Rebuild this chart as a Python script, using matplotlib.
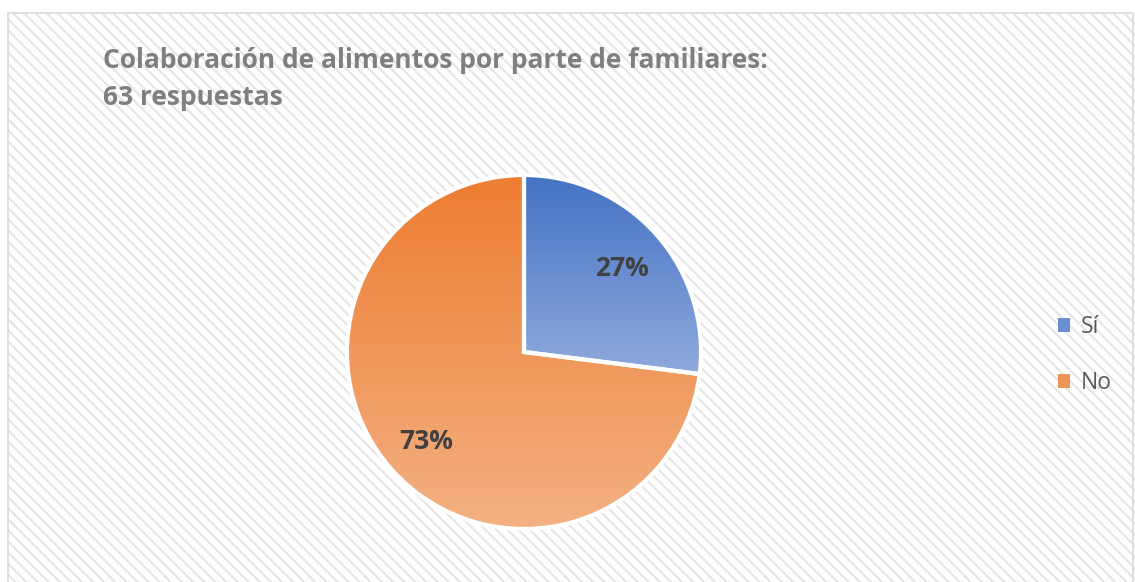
import numpy as np
import matplotlib.pyplot as plt
from matplotlib.patches import Rectangle
from matplotlib.colors import LinearSegmentedColormap

# datos
labels = ["Sí", "No"]
counts = [17, 46]
top_colors = ["#4472C4", "#ED7D31"]
bottom_colors = ["#8FAADC", "#F4B183"]
title = "Colaboración de alimentos por parte de familiares:\n63 respuestas"

plt.rcParams['font.family'] = ['Open Sans', 'DejaVu Sans']
plt.rcParams['hatch.linewidth'] = 1.6

W, H = 1135, 582
fig = plt.figure(figsize=(W / 100, H / 100), dpi=100)
ax = fig.add_axes([0, 0, 1, 1])

# fondo rayado
ax.add_patch(Rectangle((8, -10), W, H - 13 + 10, facecolor='white',
                       edgecolor='#e6e6e6', linewidth=0, hatch='\\\\\\', zorder=0))
ax.add_patch(Rectangle((8, -10), W - 10, H - 13 + 10, fill=False,
                       edgecolor='#d9d9d9', linewidth=1.2, zorder=1))

cx, cy, R = 524, 230, 177
wedges, _ = ax.pie(counts, startangle=90, counterclock=False,
                   center=(cx, cy), radius=R, frame=True,
                   wedgeprops=dict(edgecolor='white', linewidth=3))
ax.set_xlim(0, W)
ax.set_ylim(0, H)
ax.axis('off')

for w, c0, c1 in zip(wedges, top_colors, bottom_colors):
    w.set_zorder(3)
    w.set_facecolor('none')
    ext = w.get_path().get_extents(w.get_transform())
    inv = ax.transData.inverted()
    (x0, y0), (x1, y1) = inv.transform([[ext.x0, ext.y0], [ext.x1, ext.y1]])
    cmap = LinearSegmentedColormap.from_list('g', [c1, c0])
    grad = np.linspace(0, 1, 256).reshape(-1, 1)
    im = ax.imshow(grad, cmap=cmap, extent=[x0, x1, y0, y1], origin='lower',
                   aspect='auto', zorder=2)
    im.set_clip_path(w)

# etiquetas de porcentaje
total = sum(counts)
ang = 90
for w, n in zip(wedges, counts):
    sweep = 360 * n / total
    mid = np.deg2rad(ang - sweep / 2)
    ang -= sweep
    r = R * 0.74
    ax.text(cx + r * np.cos(mid), cy + r * np.sin(mid) - 3,
            f"{round(100 * n / total)}%", ha='center', va='center',
            fontsize=19, fontweight='bold', color='#404040', zorder=4)

for line, yb in zip(title.split('\n'), [68, 105]):
    fig.text(103 / W, 1 - yb / H, line, ha='left', va='baseline', fontsize=19,
             fontweight='bold', color='#7f7f7f')

leg = ax.legend(wedges, labels, loc='center left', bbox_to_anchor=(1037 / W, 1 - 355 / H),
                frameon=False, fontsize=16.5, handlelength=0.55, handleheight=0.55,
                labelspacing=1.4, handletextpad=0.45, labelcolor='#595959')
for h, c in zip(leg.legend_handles, ["#6A8FD0", "#F0955A"]):
    h.set_facecolor(c)
    h.set_edgecolor('none')

fig.savefig('out.png', dpi=100)
